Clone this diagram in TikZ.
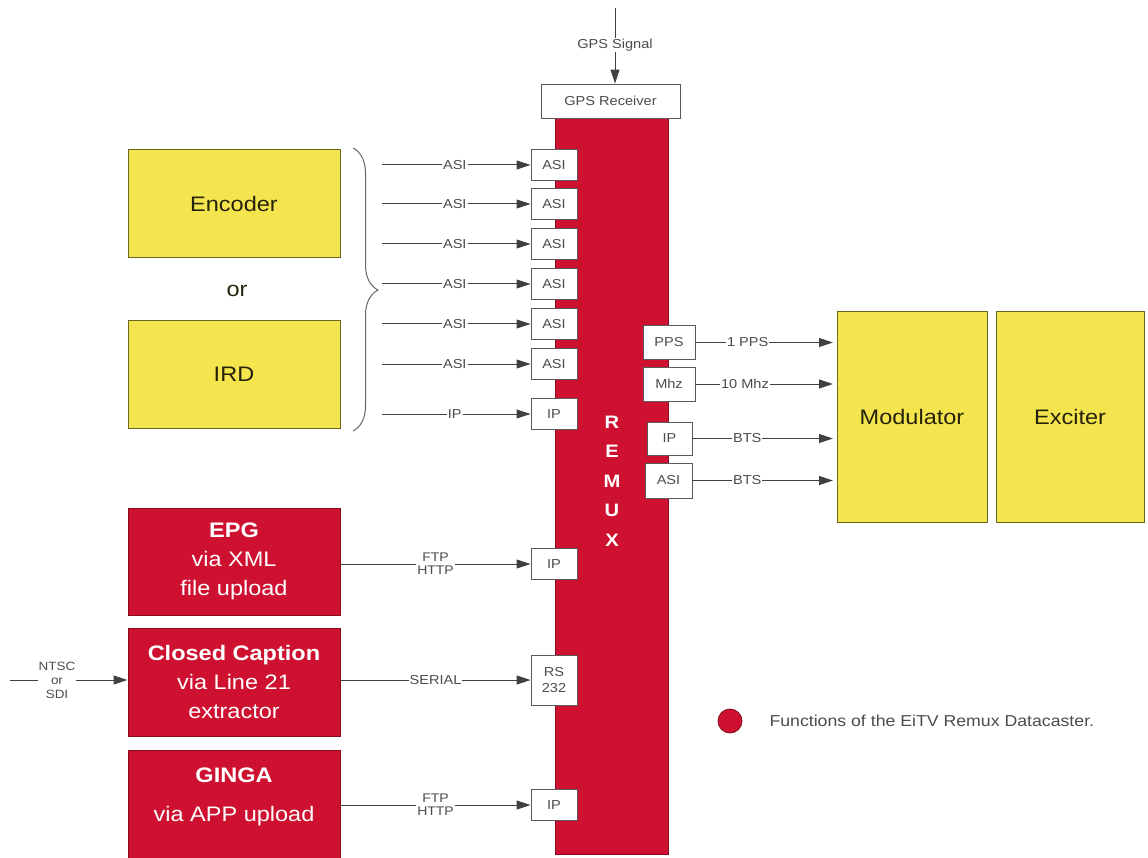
\documentclass[tikz,border=0pt]{standalone}
\usepackage{fontspec}
\setmainfont{Liberation Sans}[FakeStretch=1.12]
\usetikzlibrary{arrows.meta,decorations.pathreplacing}
\definecolor{rred}{RGB}{206,17,48}
\definecolor{yel}{RGB}{244,229,78}
\begin{document}
\begin{tikzpicture}[x=1pt,y=-1pt,
  port/.style={draw=black!65, fill=white, text=black!70, font=\fontsize{13}{14}\selectfont, minimum width=46pt, minimum height=31pt, inner sep=0pt, line width=0.9pt},
  ybox/.style={draw=yel!45!black, fill=yel, text=yel!15!black, font=\fontsize{21}{24}\selectfont, inner sep=0pt, line width=1pt},
  rbox/.style={draw=rred!65!black, fill=rred, text=white, font=\fontsize{21}{29}\selectfont, align=center, inner sep=0pt, line width=1pt},
  arr/.style={-{Triangle[length=14pt,width=9pt]}, draw=black!75, line width=1pt},
  lbl/.style={fill=white, inner sep=1pt, text=black!70, font=\fontsize{13}{14}\selectfont, align=center},
  lbl2/.style={fill=white, inner sep=1pt, text=black!70, font=\fontsize{12.5}{13}\selectfont, align=center}
]
\useasboundingbox (0,0) rectangle (1148,858);
\fill[white] (0,0) rectangle (1148,858);

% Remux bar and GPS
\node[draw=rred!65!black, fill=rred, minimum width=113pt, minimum height=736pt, inner sep=0pt] (remux) at (611.5,486) {};
\node[text=white, font=\bfseries\fontsize{18}{29.5}\selectfont, align=center] (rmx) at (612,481) {R\\E\\M\\U\\X};
\node[port, minimum width=139pt, minimum height=34pt] (gps) at (610.5,101) {GPS Receiver};
\coordinate (sig) at (615,8);
\draw[arr] (sig) -- node[lbl, pos=0.49]{GPS Signal} (sig |- gps.north);

% Encoder / IRD
\node[ybox, minimum width=212pt, minimum height=108pt] (enc) at (234,204) {Encoder};
\node[ybox, minimum width=212pt, minimum height=108pt] (ird) at (234,374.5) {IRD};
\node[text=yel!15!black, font=\fontsize{21}{24}\selectfont] (or) at (237,291) {or};
\coordinate (bt) at (353,148);
\coordinate (bb) at (353,431);
\draw[draw=black!60, line width=1pt, decorate, decoration={brace, amplitude=25pt, aspect=0.502}] (bt) -- (bb);

% ASI ports
\foreach \i/\y/\t in {1/165/ASI,2/204/ASI,3/244/ASI,4/284/ASI,5/324/ASI,6/364/ASI,7/414/IP}{
  \node[port] (in\i) at (554,\y) {\t};
  \coordinate (s\i) at (382,\y);
  \draw[arr] (s\i) -- node[lbl, pos=0.49]{\t} (in\i.west);
}

% Red function boxes
\node[rbox, minimum width=212pt, minimum height=107pt] (epg) at (234,561.5) {\textbf{EPG}\\via XML\\file upload};
\node[rbox, minimum width=212pt, minimum height=108pt] (cc) at (234,682) {\textbf{Closed Caption}\\via Line 21\\extractor};
\node[rbox, minimum width=212pt, minimum height=112pt] (ginga) at (234,806) {};
\node[text=white, font=\fontsize{21}{39}\selectfont, align=center] (gingat) at (234,797) {\textbf{GINGA}\\via APP upload};

\node[port] (ip1) at (554,564) {IP};
\node[port, minimum height=50pt, font=\fontsize{13}{16}\selectfont, align=center] (rs) at (554,680) {RS\\232};
\node[port] (ip2) at (554,805) {IP};

\draw[arr] (epg.east |- ip1) -- node[lbl2, pos=0.5]{FTP\\HTTP} (ip1.west);
\draw[arr] (cc.east |- rs) -- node[lbl, pos=0.5]{SERIAL} (rs.west);
\draw[arr] (ginga.east |- ip2) -- node[lbl2, pos=0.5]{FTP\\HTTP} (ip2.west);

\coordinate (ntsc) at (10,680);
\draw[arr] (ntsc) -- node[lbl2, pos=0.4, font=\fontsize{12}{14}\selectfont]{NTSC\\or\\SDI} (cc.west |- ntsc);

% Right ports
\node[port, minimum width=52pt, minimum height=34pt] (pps) at (669,342.5) {PPS};
\node[port, minimum width=52pt, minimum height=34pt] (mhz) at (669,384) {Mhz};
\node[port, minimum width=45pt, minimum height=33pt] (ipo) at (669.5,438.5) {IP};
\node[port, minimum width=47pt, minimum height=35pt] (asio) at (668.5,480.5) {ASI};

\node[ybox, minimum width=150pt, minimum height=210pt] (mod) at (912,417) {Modulator};
\node[ybox, minimum width=148pt, minimum height=210pt] (exc) at (1070,417) {Exciter};

\foreach \n/\t/\p in {pps/1 PPS/0.38,mhz/10 Mhz/0.36,ipo/BTS/0.39,asio/BTS/0.39}{
  \coordinate (e\n) at (833,0 |- \n);
  \draw[arr] (\n.east) -- node[lbl, pos=\p]{\t} (e\n);
}

% Legend
\node[circle, draw=rred!65!black, fill=rred, minimum size=24pt, inner sep=0pt, line width=0.8pt] (leg) at (730,721) {};
\node[anchor=west, text=black!70, font=\fontsize{15.8}{17}\selectfont] (legt) at (766,721) {Functions of the EiTV Remux Datacaster.};
\end{tikzpicture}
\end{document}
